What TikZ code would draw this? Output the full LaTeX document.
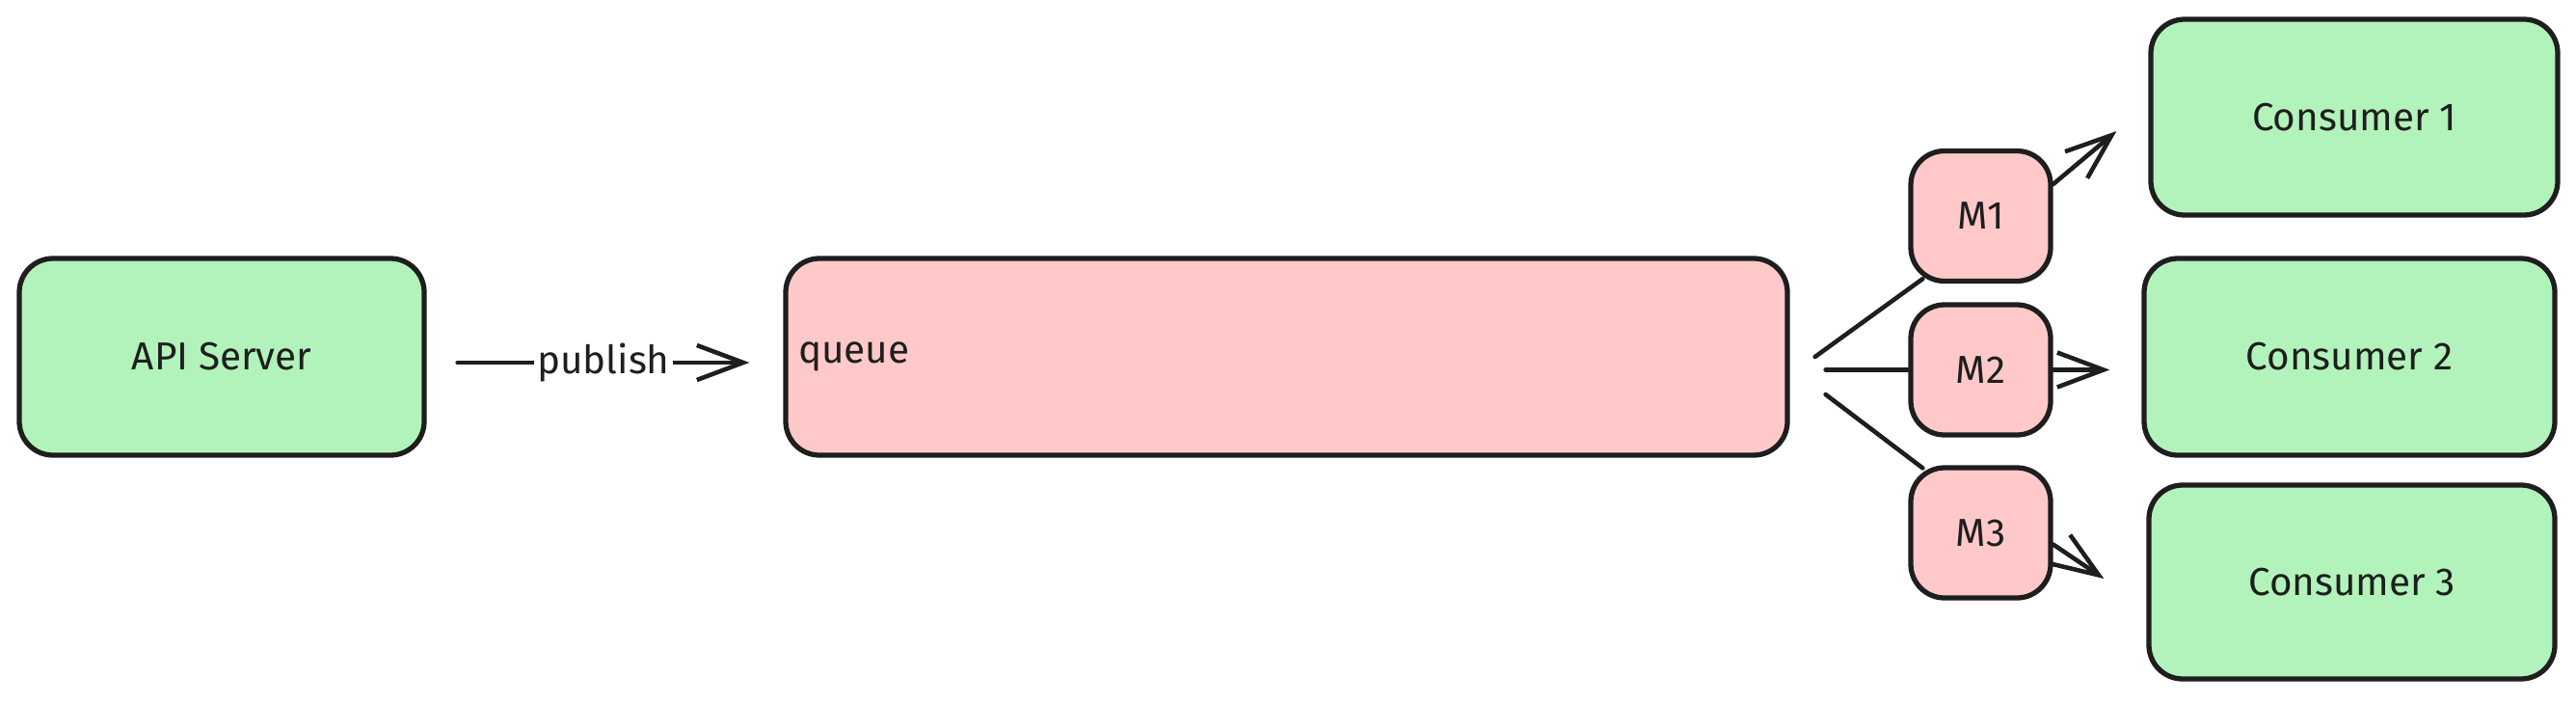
\documentclass[tikz,border=0pt]{standalone}
\usepackage{fontspec}
\setmainfont{Fira Sans}
\usetikzlibrary{arrows.meta}
\definecolor{boxgreen}{HTML}{B2F2BB}
\definecolor{boxpink}{HTML}{FFC9C9}
\definecolor{ink}{HTML}{1E1E1E}
\begin{document}
\begin{tikzpicture}[
    box/.style={draw=ink,line width=1.5pt,rounded corners=0.35cm,text=ink,font=\fontsize{11.5}{13}\selectfont},
    service/.style={box,fill=boxgreen,minimum width=4.2cm,minimum height=2.04cm},
    msg/.style={box,fill=boxpink,minimum width=1.45cm,minimum height=1.35cm},
    wire/.style={draw=ink,line width=1.3pt,line cap=round},
    flow/.style={wire,-{Straight Barb[length=4.8mm,width=3.6mm]}}]
    \useasboundingbox (0,0) rectangle (26.72,7.29);
    % producer and queue
    \node[service] (API) at (2.30,3.59) {API Server};
    \node[box,fill=boxpink,minimum width=10.39cm,minimum height=2.04cm,text width=10.13cm,align=left] (Q) at (13.345,3.59) {queue};
    \draw[flow] ([xshift=0.32cm,yshift=-0.06cm]API.east) -- node[fill=white,inner sep=1pt,text=ink,font=\fontsize{11.5}{13}\selectfont] {publish} ([xshift=-0.35cm,yshift=-0.06cm]Q.west);
    % messages
    \node[msg] (M1) at (20.545,5.05) {M1};
    \node[msg] (M2) at (20.545,3.455) {M2};
    \node[msg] (M3) at (20.545,1.765) {M3};
    % consumers
    \node[service,minimum width=4.22cm,minimum height=2.03cm] (C1) at (24.42,6.075) {Consumer 1};
    \node[service,minimum width=4.26cm] (C2) at (24.37,3.59) {Consumer 2};
    \node[service,minimum width=4.21cm,minimum height=2.01cm] (C3) at (24.395,1.255) {Consumer 3};
    % queue to messages
    \draw[wire] ([xshift=0.26cm]Q.east) -- ([xshift=0.15cm,yshift=0.05cm]M1.south west);
    \draw[wire] ([xshift=0.37cm]Q.east |- M2.west) -- (M2.west);
    \draw[wire] ([xshift=0.37cm,yshift=-0.39cm]Q.east) -- ([xshift=0.15cm,yshift=-0.03cm]M3.north west);
    % messages to consumers
    \draw[flow] ([yshift=0.33cm]M1.east) -- ([xshift=-0.33cm,yshift=-0.145cm]C1.west);
    \draw[flow] (M2.east) -- ([xshift=-0.33cm]C2.west |- M2.east);
    \draw[flow] ([yshift=-0.12cm]M3.east) -- ([xshift=-0.44cm,yshift=0.035cm]C3.west);
\end{tikzpicture}
\end{document}
